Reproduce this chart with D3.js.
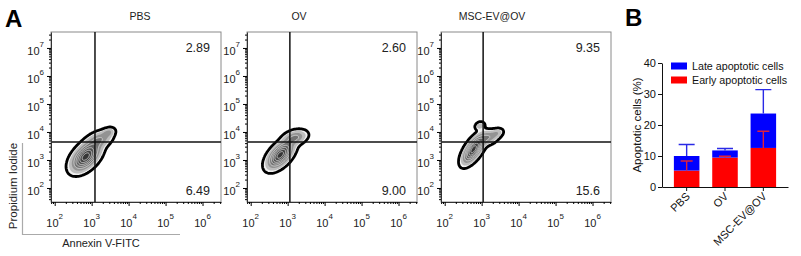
<!DOCTYPE html>
<html>
<head>
<meta charset="utf-8">
<script src="https://cdn.jsdelivr.net/npm/d3@7"></script>
<style>
  body { margin: 0; background: #fff; }
  svg { display: block; font-family: Arial, "Liberation Sans", sans-serif; }
</style>
</head>
<body>
<svg id="fig" width="801" height="256"></svg>
<script>
// ---- panel A : flow cytometry (log10 of Annexin V-FITC / Propidium Iodide)
const panels = ["PBS", "OV", "MSC-EV@OV"];
const titleX = [140, 299, 492];
const frameLeft = [51, 247, 441];
const upperRight = ["2.89", "2.60", "9.35"];
const lowerRight = ["6.49", "9.00", "15.6"];
const gateX = [3.09, 3.06, 3.04];
const gateY = [3.64, 3.64, 3.64];
const xDecades = [2, 3, 4, 5, 6];
const yDecades = [2, 3, 4, 5, 6, 7];
// density blobs: [log annexin, log PI, sd x, sd y, rho, weight]
const blobsPBS = [[2.84, 3.12, 0.21, 0.28, 0.5, 1], [3.2, 3.72, 0.2, 0.18, 0.4, 0.3], [3.45, 3.98, 0.1, 0.1, 0.3, 0.2]];
const blobsOV = [[2.8, 3.18, 0.19, 0.26, 0.55, 1], [3.2, 3.8, 0.18, 0.15, 0.3, 0.35]];
const blobsMSC = [[2.78, 3.38, 0.16, 0.27, 0.65, 1], [3.17, 3.8, 0.16, 0.15, 0.3, 0.3], [3.42, 3.96, 0.1, 0.1, 0.3, 0.15], [2.95, 4.22, 0.08, 0.09, 0.2, 0.16]];
const blobs = [blobsPBS, blobsOV, blobsMSC];
const levels = [0.04, 0.1, 0.2, 0.32, 0.46, 0.6, 0.75, 0.9];
const levelFill = ["#f0f0f0", "#bdbdbd", "#939393", "#737373", "#626262", "#535353", "#454545", "#363636"];

// ---- panel B : stacked bars
const groups = ["PBS", "OV", "MSC-EV@OV"];
const early = [5.3, 9.5, 12.6];
const late = [4.7, 2.3, 11.1];
const earlyErr = [3.1, 0.4, 5.4];
const totalErr = [3.7, 0.6, 7.7];
const yTicks = [0, 10, 20, 30, 40];

const svg = d3.select("#fig");
const W = 170, H = 170, frameTop = 32;

svg.append("text").attr("x", 5).attr("y", 27).attr("font-size", 24).attr("font-weight", "bold").text("A");
svg.append("text").attr("x", 625).attr("y", 26).attr("font-size", 24).attr("font-weight", "bold").text("B");

function density(b, lx, ly) {
  let s = 0;
  b.forEach(([mx, my, sx, sy, r, w]) => {
    const u = (lx - mx) / sx, v = (ly - my) / sy;
    const q = (u * u - 2 * r * u * v + v * v) / (1 - r * r);
    s += w * Math.exp(-0.5 * q);
  });
  return s;
}

function logLabel(sel, p) {
  sel.append("tspan").text("10");
  sel.append("tspan").attr("font-size", 8).attr("dy", -8).text(p);
}

panels.forEach((name, k) => {
  const left = frameLeft[k];
  const x = d3.scaleLinear().domain([1.9, 6.5]).range([left, left + W]);
  const y = d3.scaleLinear().domain([1.5, 7.57]).range([frameTop + H, frameTop]);
  const g = svg.append("g");

  // contours
  const vals = new Array(W * H);
  for (let j = 0; j < H; j++) {
    for (let i = 0; i < W; i++) {
      vals[j * W + i] = density(blobs[k], x.invert(left + i + 0.5), y.invert(frameTop + j + 0.5));
    }
  }
  const cs = d3.contours().size([W, H]).thresholds(levels)(vals);
  const path = d3.geoPath(d3.geoIdentity().translate([left, frameTop]));
  cs.forEach((c, i) => {
    g.append("path").attr("d", path(c))
      .attr("fill", levelFill[i])
      .attr("stroke", i === 0 ? "#000" : (i >= 3 ? "#e6e6e6" : "none"))
      .attr("stroke-width", i === 0 ? 2.8 : 0.7);
  });

  // frame
  g.append("rect").attr("x", left).attr("y", frameTop).attr("width", W).attr("height", H)
    .attr("fill", "none").attr("stroke", "#8a8a8a");

  // gates
  g.append("line").attr("x1", x(gateX[k])).attr("x2", x(gateX[k])).attr("y1", frameTop).attr("y2", frameTop + H)
    .attr("stroke", "#111").attr("stroke-width", 1.5);
  g.append("line").attr("x1", left).attr("x2", left + W).attr("y1", y(gateY[k])).attr("y2", y(gateY[k]))
    .attr("stroke", "#111").attr("stroke-width", 1.5);

  // log ticks
  const minorX = [], minorY = [];
  for (let d = 1; d <= 7; d++) for (let m = 2; m <= 9; m++) {
    const v = d + Math.log10(m);
    if (v > 1.9 && v < 6.5) minorX.push(v);
    if (v > 1.5 && v < 7.57) minorY.push(v);
  }
  g.append("g").attr("transform", `translate(0,${frameTop + H})`)
    .call(d3.axisBottom(x).tickValues(minorX).tickSize(2).tickFormat("").tickSizeOuter(0))
    .call(a => a.select(".domain").attr("stroke", "#333"));
  g.append("g").attr("transform", `translate(0,${frameTop + H})`)
    .call(d3.axisBottom(x).tickValues(xDecades).tickSize(4).tickFormat("").tickSizeOuter(0))
    .call(a => a.select(".domain").remove());
  g.append("g").attr("transform", `translate(${left},0)`)
    .call(d3.axisLeft(y).tickValues(minorY).tickSize(2).tickFormat("").tickSizeOuter(0))
    .call(a => a.select(".domain").attr("stroke", "#333"));
  g.append("g").attr("transform", `translate(${left},0)`)
    .call(d3.axisLeft(y).tickValues(yDecades).tickSize(4).tickFormat("").tickSizeOuter(0))
    .call(a => a.select(".domain").remove());

  xDecades.forEach(p => {
    g.append("text").attr("x", x(p)).attr("y", 227).attr("text-anchor", "middle")
      .attr("font-size", 11).attr("fill", "#222").call(logLabel, p);
  });
  yDecades.forEach(p => {
    g.append("text").attr("x", left - 7).attr("y", y(p) + 7).attr("text-anchor", "end")
      .attr("font-size", 11).attr("fill", "#222").call(logLabel, p);
  });

  g.append("text").attr("x", titleX[k]).attr("y", 20).attr("text-anchor", "middle")
    .attr("font-size", 10.5).attr("fill", "#222").text(name);
  g.append("text").attr("x", left + W - 11).attr("y", 52).attr("text-anchor", "end")
    .attr("font-size", 12.5).attr("fill", "#222").text(upperRight[k]);
  g.append("text").attr("x", left + W - 11).attr("y", 195).attr("text-anchor", "end")
    .attr("font-size", 12.5).attr("fill", "#222").text(lowerRight[k]);
});

// axis titles of panel A with grey corner line
svg.append("path").attr("d", "M22.5,143V234.5H180").attr("fill", "none").attr("stroke", "#aaa").attr("stroke-width", 1.2);
svg.append("text").attr("transform", "translate(17,186) rotate(-90)").attr("text-anchor", "middle")
  .attr("font-size", 11.5).attr("fill", "#222").text("Propidium Iodide");
svg.append("text").attr("x", 101).attr("y", 247).attr("text-anchor", "middle")
  .attr("font-size", 11).attr("fill", "#222").text("Annexin V-FITC");

// ---- panel B
const bx = d3.scaleBand().domain(groups).range([662, 788]).paddingInner(0.334).paddingOuter(0.31);
const by = d3.scaleLinear().domain([0, 40]).range([187, 63]);
const table = groups.map((gname, i) => ({ group: gname, early: early[i], late: late[i] }));
const stack = d3.stack().keys(["early", "late"])(table);
const barColor = { early: "#ff0000", late: "#0000ff" };
const bg = svg.append("g");

stack.forEach(layer => {
  bg.append("g").attr("fill", barColor[layer.key])
    .selectAll("rect").data(layer).join("rect")
    .attr("x", d => bx(d.data.group)).attr("width", bx.bandwidth())
    .attr("y", d => by(d[1])).attr("height", d => by(d[0]) - by(d[1]));
});

groups.forEach((gname, i) => {
  const cx = bx(gname) + bx.bandwidth() / 2;
  const tot = early[i] + late[i];
  bg.append("path")
    .attr("d", `M${cx},${by(tot)}V${by(tot + totalErr[i])}M${cx - 8},${by(tot + totalErr[i])}H${cx + 8}`)
    .attr("stroke", "#2a2ae6").attr("stroke-width", 1.4).attr("fill", "none");
  bg.append("path")
    .attr("d", `M${cx},${by(early[i])}V${by(early[i] + earlyErr[i])}M${cx - 6},${by(early[i] + earlyErr[i])}H${cx + 6}`)
    .attr("stroke", "#e0203a").attr("stroke-width", 1.4).attr("fill", "none");
});

bg.append("g").attr("transform", "translate(662,0)")
  .call(d3.axisLeft(by).tickValues(yTicks).tickSize(4).tickPadding(2).tickSizeOuter(0))
  .call(a => a.selectAll("text").attr("font-size", 11).attr("fill", "#111").attr("font-family", null))
  .call(a => a.selectAll("line,path").attr("stroke", "#111"));
bg.append("g").attr("transform", "translate(0,187)")
  .call(d3.axisBottom(bx).tickSize(4).tickSizeOuter(0).tickFormat(""))
  .call(a => a.selectAll("line,path").attr("stroke", "#111"));

groups.forEach(gname => {
  const cx = bx(gname) + bx.bandwidth() / 2;
  bg.append("text").attr("transform", `translate(${cx + 4},${197}) rotate(-45)`)
    .attr("text-anchor", "end").attr("font-size", 11).attr("fill", "#111").text(gname);
});

bg.append("text").attr("transform", "translate(641,125) rotate(-90)").attr("text-anchor", "middle")
  .attr("font-size", 11.5).attr("fill", "#111").text("Apoptotic cells (%)");

const legend = [["Late apoptotic cells", "late", 66], ["Early apoptotic cells", "early", 80]];
legend.forEach(([label, key, ly]) => {
  bg.append("rect").attr("x", 671).attr("y", ly - 3.5).attr("width", 16).attr("height", 7).attr("fill", barColor[key]);
  bg.append("text").attr("x", 692).attr("y", ly + 4).attr("font-size", 10.7).attr("fill", "#111").text(label);
});
</script>
</body>
</html>
